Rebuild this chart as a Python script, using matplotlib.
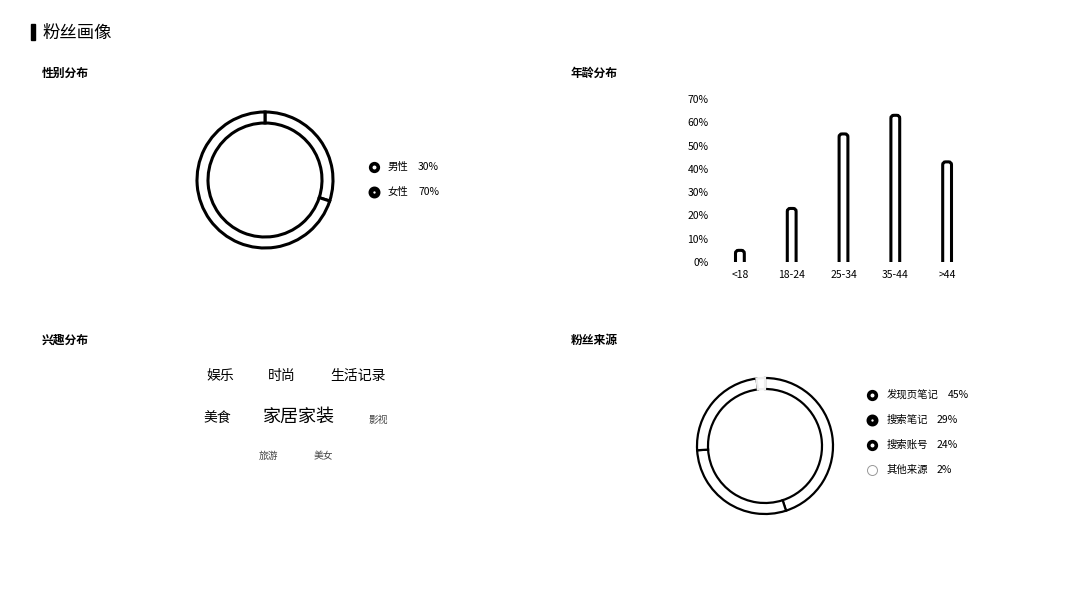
import matplotlib.pyplot as plt
from matplotlib.patches import Rectangle, FancyBboxPatch

plt.rcParams['font.family'] = ['Noto Sans CJK SC', 'DejaVu Sans']

# data
gender_labels = ['男性', '女性']
gender_values = [30, 70]

age_labels = ['<18', '18-24', '25-34', '35-44', '>44']
age_values = [5, 23, 55, 63, 43]

interest_words = ['娱乐', '时尚', '生活记录', '美食', '家居家装', '影视', '旅游', '美女']
interest_weights = [3, 3, 3, 3, 4, 1, 1, 1]

source_labels = ['发现页笔记', '搜索笔记', '搜索账号', '其他来源']
source_values = [45, 29, 24, 2]

W, H = 1080, 595
fig = plt.figure(figsize=(W / 100, H / 100), dpi=100)
fig.patch.set_facecolor('white')


def px_axes(x0, y0, w, h):
    # axes placed by pixel box (top-left origin)
    return fig.add_axes([x0 / W, 1 - (y0 + h) / H, w / W, h / H])


# overlay axes in pixel coordinates for titles, legends, word cloud
bg = fig.add_axes([0, 0, 1, 1], zorder=0)
bg.set_xlim(0, W)
bg.set_ylim(H, 0)
bg.axis('off')

bg.add_patch(Rectangle((31, 24), 4, 16, color='black'))
bg.text(42, 33, '粉丝画像', fontsize=12.5, va='center', ha='left')
for x, y, t in [(42, 73, '性别分布'), (571, 73, '年龄分布'),
                (42, 340, '兴趣分布'), (571, 340, '粉丝来源')]:
    bg.text(x, y, t, fontsize=8.5, fontweight='bold', va='center', ha='left')


def donut(cx, cy, values, edgecolors, lw):
    ax = px_axes(cx - 80, cy - 80, 160, 160)
    wedges, _ = ax.pie(values, radius=68, startangle=90, counterclock=False,
                       colors=['white'] * len(values),
                       wedgeprops=dict(width=11, linewidth=lw))
    for w, ec in zip(wedges, edgecolors):
        w.set_edgecolor(ec)
    ax.set_xlim(-80, 80)
    ax.set_ylim(-80, 80)
    ax.set_aspect('equal')
    ax.axis('off')
    return ax


# gender donut
donut(265, 180, gender_values, ['black', 'black'], 2.2)
gender_markers = [(5.5, 2.6), (5.2, 3.4)]
for i, (lab, val) in enumerate(zip(gender_labels, gender_values)):
    y = 167 + i * 25
    ms, mew = gender_markers[i]
    bg.plot(374, y, 'o', ms=ms, mfc='white', mec='black', mew=mew)
    bg.text(388, y, lab, fontsize=7.5, va='center', ha='left')
    bg.text(418, y, f'{val}%', fontsize=7.5, va='center', ha='left')

# age bar chart with rounded tops
ax_w, ax_h = 259, 163
ax = px_axes(714, 99, ax_w, ax_h)
ax.set_xlim(-0.5, len(age_values) - 0.5)
ax.set_ylim(0, 70)
bar_w = 0.17
aspect = (70 / ax_h) / (len(age_values) / ax_w)
for i, v in enumerate(age_values):
    ax.add_patch(FancyBboxPatch((i - bar_w / 2, -4), bar_w, v + 4,
                                boxstyle=f'round,pad=0,rounding_size={bar_w / 3}',
                                mutation_aspect=aspect, facecolor='white',
                                edgecolor='black', linewidth=2.2))
ax.set_yticks(range(0, 71, 10))
ax.set_yticklabels([f'{v}%' for v in range(0, 71, 10)], fontsize=7.5)
ax.set_xticks(range(len(age_labels)))
ax.set_xticklabels(age_labels, fontsize=7.5)
ax.tick_params(axis='y', length=0, pad=4)
ax.tick_params(axis='x', length=0, pad=6)
for s in ax.spines.values():
    s.set_visible(False)

# interest word cloud
word_pos = [(220, 376), (282, 376), (358, 376), (217, 419),
            (299, 417), (378, 420), (268, 456), (323, 456)]
size_map = {1: 7, 3: 10, 4: 13}
color_map = {1: '#444444', 3: 'black', 4: 'black'}
for w, wt, (x, y) in zip(interest_words, interest_weights, word_pos):
    bg.text(x, y, w, fontsize=size_map[wt], color=color_map[wt],
            va='center', ha='center')

# source donut
donut(765, 446, source_values, ['black', 'black', 'black', '#eeeeee'], 1.6)
source_markers = [(5.5, 2.6, 'black'), (5.2, 3.4, 'black'),
                  (5.5, 2.6, 'black'), (7.2, 0.7, '#999999')]
for i, (lab, val) in enumerate(zip(source_labels, source_values)):
    y = 395 + i * 25
    ms, mew, mec = source_markers[i]
    bg.plot(872, y, 'o', ms=ms, mfc='white', mec=mec, mew=mew, ls='none')
    bg.text(887, y, lab, fontsize=7.5, va='center', ha='left')
    bg.text(887 + 11 * len(lab) + 6, y, f'{val}%', fontsize=7.5,
            va='center', ha='left')

fig.savefig('out.png', dpi=100, facecolor='white')
